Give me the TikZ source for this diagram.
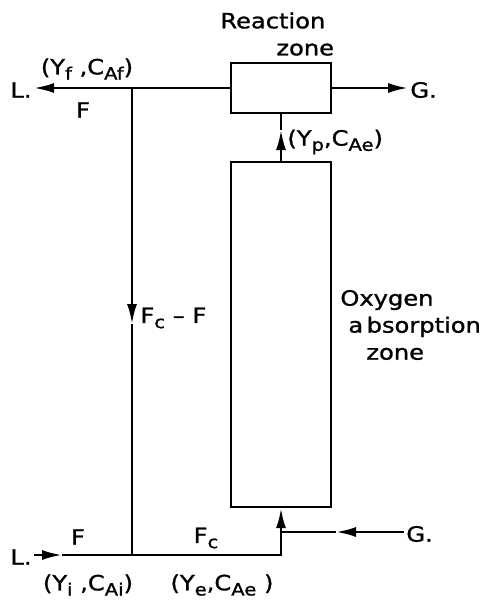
\documentclass[tikz,border=0pt]{standalone}
\usepackage{fontspec}
\setmainfont{DejaVu Sans}[FakeStretch=1.15,FakeBold=1.2]
\usetikzlibrary{positioning,arrows.meta}
\newcommand{\lowsub}[1]{\raisebox{-0.45ex}{\fontsize{8.5}{9}\selectfont #1}}
\begin{document}
\begin{tikzpicture}[x=0.5pt,y=-0.5pt,
box/.style={draw,line width=1.2pt,minimum width=50pt,inner sep=0pt},
arrow/.style={-{Latex[length=10pt,width=5pt]},line width=1.2pt},
line/.style={line width=1.2pt},
lbl/.style={font=\fontsize{10.5}{13.5}\selectfont,inner sep=1pt}]
\useasboundingbox (0,0) rectangle (492,606);
\node[box,minimum height=25pt] (react) at (281,88) {};
\node[box,minimum height=172.5pt] (absorb) at (281,334.5) {};
\node[lbl,anchor=east] (Lout) at (34,90) {L.};
\node[lbl,anchor=west] (Gout) at (408,90) {G.};
\node[lbl,anchor=east] (Lin) at (34,557) {L.};
\node[lbl,anchor=west] (Gin) at (404,534) {G.};
\coordinate (jtop) at (132,88);
\coordinate (jbot) at (132,555);
\coordinate (vmid) at (132,324);
\coordinate (pmid) at (281,130);
\coordinate (gmix) at (281,532);
\coordinate (gmid) at (336,532);
\coordinate (inmid) at (62,555);
\draw[line](react.west)--(jtop);\draw[arrow](jtop)--(Lout.east|-jtop);
\draw[arrow](react.east)--(Gout.west|-react.east);
\draw[arrow](jtop)--(vmid);\draw[line](vmid)--(jbot);
\draw[arrow](absorb.north)--(pmid);\draw[line](pmid)--(react.south);
\draw[arrow](Gin.west|-gmix)--(gmid);\draw[line](gmid)--(gmix);
\draw[arrow](gmix)--(absorb.south);
\draw[line](gmix)|-(jbot);
\draw[arrow](Lin.east|-jbot)--(inmid);\draw[line](inmid)--(jbot);
\node[lbl,align=left,anchor=west] (rzone) at (218,34) {Reaction\\\hspace*{28pt}zone};
\node[lbl] (yf) at (87,69) {(Y\lowsub{f} ,C\lowsub{Af})};
\node[lbl] (ftop) at (83,110) {F};
\node[lbl,anchor=west] (yp) at (285,142) {(Y\lowsub{p},C\lowsub{Ae})};
\node[lbl,anchor=west] (fcf) at (138,318) {F\lowsub{c} -- F};
\node[lbl,align=left,anchor=west] (ozone) at (338,325) {Oxygen\\\hspace*{4pt}a\,bsorption\\\hspace*{13pt}zone};
\node[lbl] (fbot) at (78,537) {F};
\node[lbl] (fc) at (206,538) {F\lowsub{c}};
\node[lbl] (yi) at (88,585) {(Y\lowsub{i} ,C\lowsub{Ai})};
\node[lbl] (ye) at (222,585) {(Y\lowsub{e},C\lowsub{Ae} )};
\end{tikzpicture}
\end{document}
